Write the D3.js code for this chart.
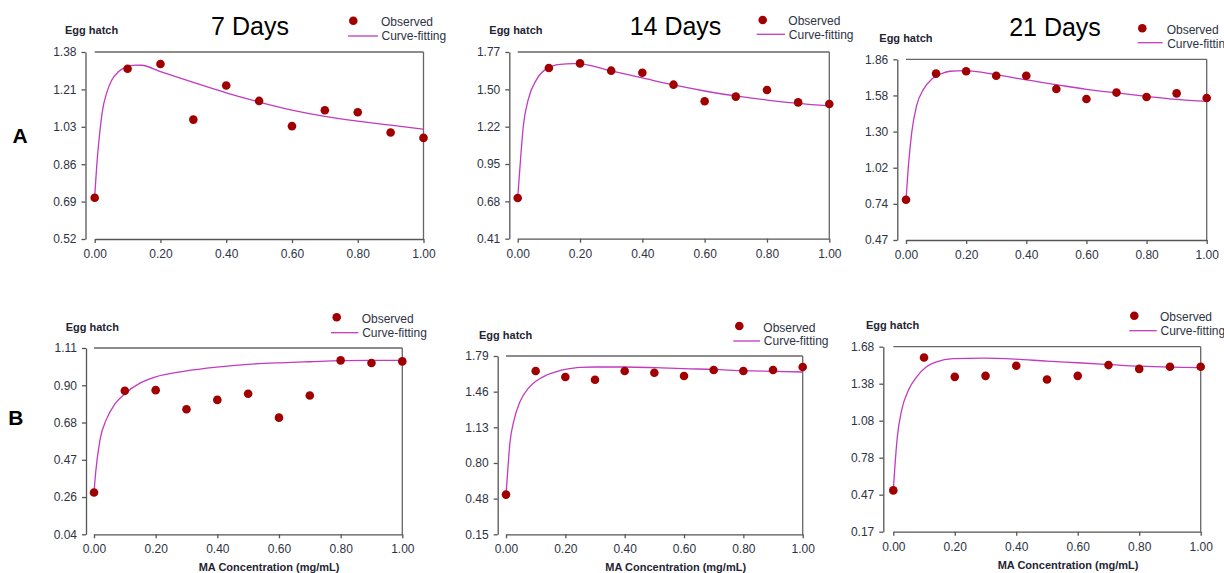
<!DOCTYPE html>
<html><head><meta charset="utf-8">
<script src="https://cdn.jsdelivr.net/npm/d3@7"></script>
<style>
html,body{margin:0;padding:0;background:#fff;}
svg{display:block;font-family:"Liberation Sans",Arial,sans-serif;}
</style></head>
<body>
<svg id="chart" width="1224" height="573"></svg>
<script>
// ---------- DATA ----------
const concentrations = [0, 0.1, 0.2, 0.3, 0.4, 0.5, 0.6, 0.7, 0.8, 0.9, 1.0];
const xTickValues = [0, 0.2, 0.4, 0.6, 0.8, 1.0];
const xTickLabels = ["0.00", "0.20", "0.40", "0.60", "0.80", "1.00"];

const obs7A  = [0.71, 1.303, 1.325, 1.069, 1.226, 1.155, 1.039, 1.112, 1.103, 1.010, 0.985];
const obs14A = [0.706, 1.653, 1.687, 1.634, 1.619, 1.532, 1.411, 1.445, 1.493, 1.403, 1.391];
const obs21A = [0.78, 1.75, 1.768, 1.734, 1.734, 1.632, 1.555, 1.604, 1.57, 1.598, 1.562];
const obs7B  = [0.28, 0.864, 0.868, 0.758, 0.812, 0.847, 0.71, 0.837, 1.039, 1.024, 1.033];
const obs14B = [0.515, 1.652, 1.597, 1.572, 1.652, 1.636, 1.606, 1.661, 1.652, 1.661, 1.689];
const obs21B = [0.507, 1.592, 1.434, 1.442, 1.524, 1.412, 1.442, 1.53, 1.499, 1.516, 1.516];

const fit7A = [[0,0.715],[0.006,0.853],[0.014,0.99],[0.024,1.113],[0.036,1.19],[0.052,1.251],[0.072,1.289],[0.097,1.312],[0.123,1.32],[0.143,1.319],[0.2,1.29],[0.3,1.24],[0.4,1.192],[0.5,1.15],[0.6,1.113],[0.7,1.084],[0.8,1.062],[0.9,1.044],[1.0,1.025]];
const fit14A = [[0,0.706],[0.0075,0.939],[0.018,1.231],[0.034,1.425],[0.061,1.571],[0.093,1.649],[0.136,1.68],[0.179,1.685],[0.2,1.684],[0.3,1.632],[0.4,1.581],[0.5,1.53],[0.6,1.486],[0.7,1.45],[0.8,1.42],[0.9,1.396],[1.0,1.377]];
const fit21A = [[0,0.78],[0.008,1.039],[0.019,1.296],[0.035,1.501],[0.058,1.629],[0.085,1.706],[0.113,1.745],[0.146,1.768],[0.197,1.773],[0.3,1.742],[0.4,1.701],[0.5,1.665],[0.6,1.629],[0.7,1.601],[0.8,1.575],[0.9,1.552],[1.0,1.537]];
const fit7B = [[0,0.28],[0.006,0.405],[0.019,0.578],[0.041,0.703],[0.068,0.789],[0.1,0.847],[0.149,0.908],[0.198,0.943],[0.295,0.977],[0.398,1.0],[0.5,1.016],[0.603,1.025],[0.7,1.031],[0.8,1.037],[0.9,1.039],[1.0,1.039]];
const fit14B = [[0,0.515],[0.006,0.74],[0.013,0.985],[0.027,1.2],[0.047,1.369],[0.075,1.492],[0.103,1.563],[0.137,1.615],[0.176,1.652],[0.2,1.667],[0.249,1.686],[0.3,1.689],[0.4,1.689],[0.5,1.683],[0.6,1.673],[0.7,1.667],[0.8,1.655],[0.9,1.649],[1.0,1.643]];
const fit21B = [[0,0.507],[0.005,0.695],[0.013,0.941],[0.027,1.16],[0.049,1.324],[0.076,1.434],[0.108,1.516],[0.141,1.557],[0.195,1.582],[0.293,1.587],[0.396,1.579],[0.5,1.562],[0.6,1.549],[0.7,1.535],[0.8,1.521],[0.9,1.513],[1.0,1.51]];

const yTicks7A  = ["0.52", "0.69", "0.86", "1.03", "1.21", "1.38"];
const yTicks14A = ["0.41", "0.68", "0.95", "1.22", "1.50", "1.77"];
const yTicks21A = ["0.47", "0.74", "1.02", "1.30", "1.58", "1.86"];
const yTicks7B  = ["0.04", "0.26", "0.47", "0.68", "0.90", "1.11"];
const yTicks14B = ["0.15", "0.48", "0.80", "1.13", "1.46", "1.79"];
const yTicks21B = ["0.17", "0.47", "0.78", "1.08", "1.38", "1.68"];

const titles = ["7 Days", "14 Days", "21 Days"];
const rowLabels = ["A", "B"];
const yAxisTitle = "Egg hatch";
const xAxisTitle = "MA Concentration (mg/mL)";
const legendLabels = ["Observed", "Curve-fitting"];

// ---------- LAYOUT ----------
const panels = [
  {obs: obs7A,  fit: fit7A,  ticks: yTicks7A,  ax: 85.5,  x0: 94.7,  x1: 423.5,  top: 52,    bottom: 239,   ey: [65, 34],     leg: [353.3, 20.7, 348, 378, 36, 381, 25.7, 40],    title: [250, 35, titles[0]]},
  {obs: obs14A, fit: fit14A, ticks: yTicks14A, ax: 509.3, x0: 517.7, x1: 829.3,  top: 52,    bottom: 238.7, ey: [489.3, 34.3], leg: [762.7, 20, 756.7, 785, 34.3, 788.3, 25.3, 39.3], title: [675.5, 35, titles[1]]},
  {obs: obs21A, fit: fit21A, ticks: yTicks21A, ax: 897.3, x0: 906,   x1: 1206.7, top: 59.3,  bottom: 240,   ey: [879.3, 41.7], leg: [1142.3, 28.3, 1137.7, 1162.7, 42.7, 1166.7, 33.7, 47.7], title: [1055, 36, titles[2]]},
  {obs: obs7B,  fit: fit7B,  ticks: yTicks7B,  ax: 86,    x0: 94,    x1: 402.3,  top: 348,   bottom: 534.3, ey: [65.7, 330.7], leg: [336.7, 317.3, 331, 358.3, 332.7, 361.7, 322.7, 336.7], xt: [269, 571]},
  {obs: obs14B, fit: fit14B, ticks: yTicks14B, ax: 497.7, x0: 506,   x1: 802.7,  top: 356,   bottom: 534.3, ey: [479, 339],   leg: [739.3, 326, 733.3, 760, 341, 763.3, 331.7, 345], xt: [675.7, 571]},
  {obs: obs21B, fit: fit21B, ticks: yTicks21B, ax: 883.3, x0: 893.3, x1: 1200.7, top: 346.7, bottom: 531.7, ey: [866, 329.3],  leg: [1134.3, 315.7, 1129.3, 1156.7, 330.7, 1160, 321, 335], xt: [1068, 569.3]}
];

const svg = d3.select("#chart");
svg.append("rect").attr("width", 1224).attr("height", 573).attr("fill", "#fff");

const AXIS = "#555";
const TXT = "#2e3344";
const DOT = "#a00000";
const LINE = "#c23ac0";

panels.forEach(p => {
  const g = svg.append("g");
  const yMin = +p.ticks[0], yMax = +p.ticks[p.ticks.length - 1];
  const x = d3.scaleLinear().domain([0, 1]).range([p.x0, p.x1]);
  const y = d3.scaleLinear().domain([yMin, yMax]).range([p.bottom, p.top]);
  const tv = d3.range(p.ticks.length).map(i => yMin + i * (yMax - yMin) / (p.ticks.length - 1));

  // frame: top and right
  g.append("line").attr("x1", x(0)).attr("x2", x(1)).attr("y1", y(yMax)).attr("y2", y(yMax))
    .attr("stroke", "#666").attr("stroke-width", 1.3);
  g.append("line").attr("x1", x(1)).attr("x2", x(1)).attr("y1", y(yMax)).attr("y2", y(yMin))
    .attr("stroke", "#666").attr("stroke-width", 1.3);

  // y axis
  const ya = g.append("g").attr("transform", `translate(${p.ax},0)`)
    .call(d3.axisLeft(y).tickValues(tv).tickFormat((d, i) => p.ticks[i]).tickSize(4).tickSizeOuter(0).tickPadding(5));
  // x axis
  const xa = g.append("g").attr("transform", `translate(0,${p.bottom})`)
    .call(d3.axisBottom(x).tickValues(xTickValues).tickFormat((d, i) => xTickLabels[i]).tickSize(4).tickSizeOuter(0).tickPadding(6.5));
  [ya, xa].forEach(a => {
    a.selectAll("path,line").attr("stroke", AXIS).attr("stroke-width", 1.3);
    a.selectAll("text").attr("fill", TXT).style("font-size", "12px").style("font-family", '"Liberation Sans",Arial,sans-serif');
  });

  // fitted curve
  const line = d3.line().x(d => x(d[0])).y(d => y(d[1])).curve(d3.curveMonotoneX);
  g.append("path").datum(p.fit).attr("d", line).attr("fill", "none").attr("stroke", LINE).attr("stroke-width", 1.3);

  // observed points
  g.selectAll("circle.obs").data(p.obs).join("circle").attr("class", "obs")
    .attr("cx", (d, i) => x(concentrations[i])).attr("cy", d => y(d)).attr("r", 4.3).attr("fill", DOT);

  // y title
  g.append("text").attr("x", p.ey[0]).attr("y", p.ey[1]).text(yAxisTitle)
    .attr("font-weight", "bold").attr("font-size", 11).attr("fill", "#1f2533");

  // legend
  const L = p.leg;
  g.append("circle").attr("cx", L[0]).attr("cy", L[1]).attr("r", 4.3).attr("fill", DOT);
  g.append("line").attr("x1", L[2]).attr("x2", L[3]).attr("y1", L[4]).attr("y2", L[4]).attr("stroke", LINE).attr("stroke-width", 1.3);
  g.append("text").attr("x", L[5]).attr("y", L[6]).text(legendLabels[0]).attr("font-size", 12).attr("fill", TXT);
  g.append("text").attr("x", L[5] + 0.5).attr("y", L[7]).text(legendLabels[1]).attr("font-size", 12).attr("fill", TXT);

  if (p.title) {
    g.append("text").attr("x", p.title[0]).attr("y", p.title[1]).attr("text-anchor", "middle")
      .attr("font-size", 25).attr("fill", "#000").text(p.title[2]);
  }
  if (p.xt) {
    g.append("text").attr("x", p.xt[0]).attr("y", p.xt[1]).attr("text-anchor", "middle")
      .attr("font-size", 11).attr("font-weight", "bold").attr("fill", "#1f2533").text(xAxisTitle);
  }
});

svg.append("text").attr("x", 12.5).attr("y", 143).attr("font-size", 21).attr("font-weight", "bold").attr("fill", "#000").text(rowLabels[0]);
svg.append("text").attr("x", 8.3).attr("y", 425).attr("font-size", 21).attr("font-weight", "bold").attr("fill", "#000").text(rowLabels[1]);
</script>
</body></html>
